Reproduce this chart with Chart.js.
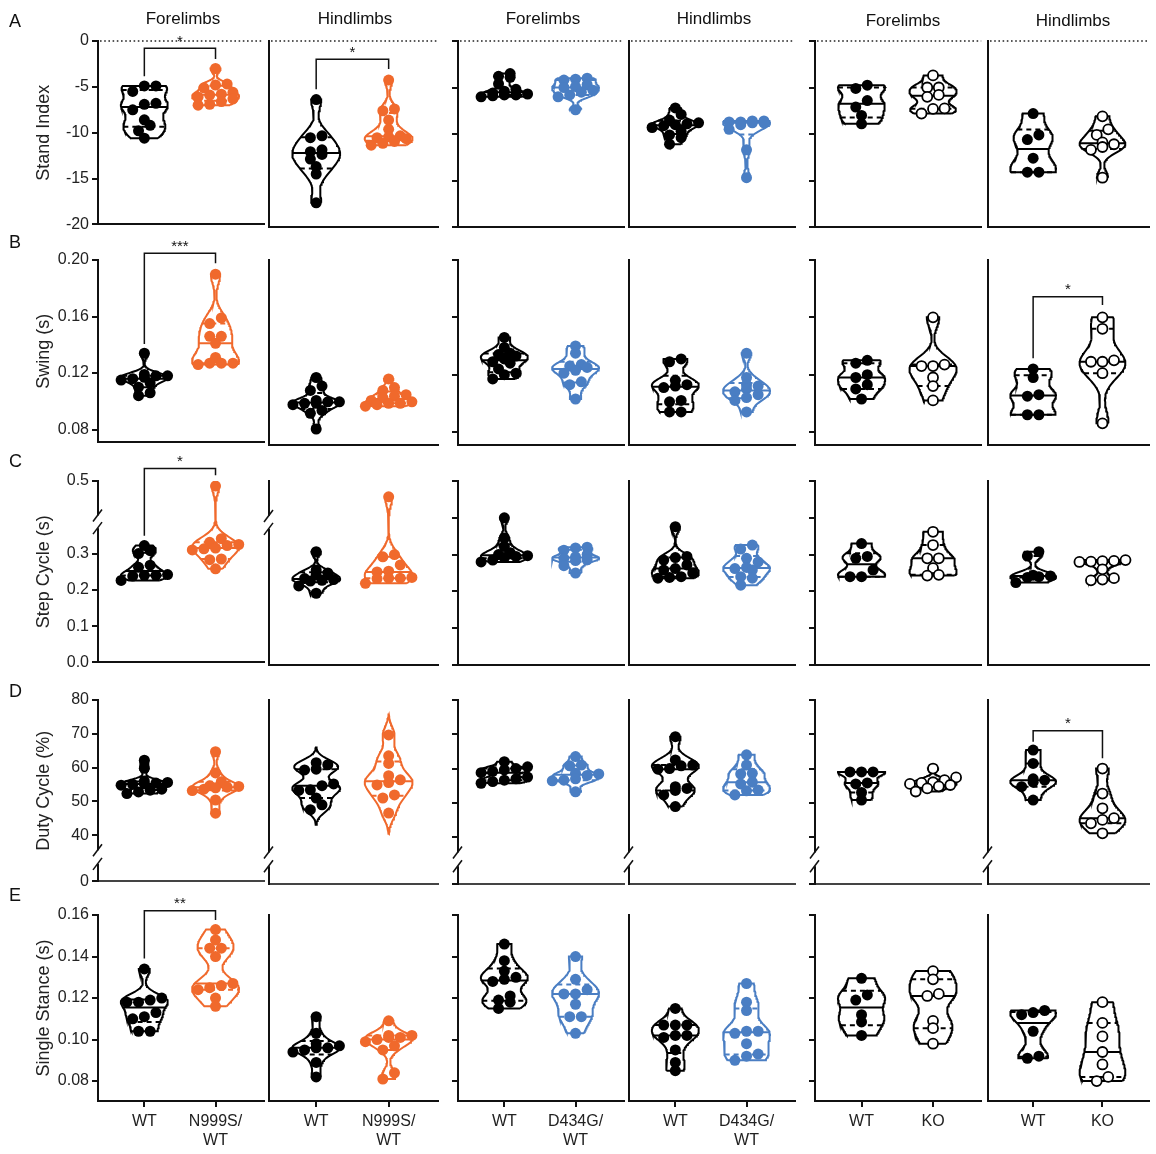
<!DOCTYPE html>
<html>
<head>
<meta charset="utf-8">
<script src="https://cdn.jsdelivr.net/npm/chart.js@4.4.1/dist/chart.umd.min.js"></script>
<style>
  body { margin: 0; background: #fff; width: 1156px; height: 1154px; position: relative; overflow: hidden; font-family: 'Liberation Sans', Arial, sans-serif; }
  canvas { position: absolute; }
  .limb { position: absolute; font-size: 17px; color: #111; transform: translateX(-50%); white-space: nowrap; }
  .letter { position: absolute; font-size: 18px; color: #111; }
</style>
</head>
<body>
<script>
// ---- data ----
const rowNames = ["Stand Index", "Swing (s)", "Step Cycle (s)", "Duty Cycle (%)", "Single Stance (s)"];
const rowLetters = ["A", "B", "C", "D", "E"];
const limbTitles = ["Forelimbs", "Hindlimbs", "Forelimbs", "Hindlimbs", "Forelimbs", "Hindlimbs"];
const wtLabel = "WT";
const mutLabels = [["N999S/", "WT"], ["N999S/", "WT"], ["D434G/", "WT"], ["D434G/", "WT"], "KO", "KO"];

const standTicks = [-20, -15, -10, -5, 0];
const swingTicks = [0.08, 0.12, 0.16, 0.20];
const stepTicks = [0, 0.1, 0.2, 0.3, 0.4, 0.5];
const dutyTicks = [0, 40, 50, 60, 70, 80];
const stanceTicks = [0.08, 0.10, 0.12, 0.14, 0.16];

const standWT = [
  [-4.9, -4.9, -5.5, -6.8, -6.9, -7.5, -8.6, -9.2, -9.8, -10.6],
  [-6.3, -10.2, -10.4, -11.7, -11.9, -12.2, -12.7, -13.5, -14.3, -17.4],
  [-3.5, -3.8, -3.9, -4.6, -5.2, -5.4, -5.6, -5.7, -5.8, -5.8, -5.9, -6.0],
  [-7.2, -7.9, -8.5, -8.8, -8.9, -9.0, -9.1, -9.3, -9.7, -10.1, -10.4, -11.1],
  [-4.75, -5.1, -6.4, -7.1, -8.0, -8.9],
  [-7.8, -10.1, -10.6, -12.6, -14.1, -14.1]
];
const standMut = [
  [-3.0, -4.7, -4.8, -5.1, -5.6, -5.8, -5.9, -6.1, -6.3, -6.6, -6.9, -7.0],
  [-4.2, -7.3, -7.5, -8.5, -9.5, -10.2, -10.3, -10.4, -10.5, -10.8, -11.0, -11.2],
  [-4.0, -4.1, -4.2, -4.7, -4.9, -5.0, -5.3, -5.5, -5.8, -6.0, -7.4],
  [-8.6, -8.6, -8.7, -8.7, -8.8, -8.8, -9.0, -9.5, -11.7, -14.7],
  [-3.7, -5.0, -5.0, -5.8, -6.0, -7.25, -7.3, -7.8],
  [-8.1, -9.5, -10.1, -10.9, -11.1, -11.4, -11.7, -14.7]
];
const swingWT = [
  [0.134, 0.119, 0.118, 0.118, 0.117, 0.116, 0.115, 0.113, 0.110, 0.106, 0.104],
  [0.118, 0.112, 0.109, 0.102, 0.101, 0.101, 0.100, 0.100, 0.099, 0.095, 0.093, 0.082],
  [0.146, 0.139, 0.135, 0.134, 0.133, 0.131, 0.129, 0.128, 0.124, 0.121, 0.120, 0.117],
  [0.131, 0.129, 0.116, 0.113, 0.112, 0.111, 0.102, 0.101, 0.094, 0.094],
  [0.130, 0.128, 0.120, 0.118, 0.113, 0.110, 0.103],
  [0.124, 0.118, 0.106, 0.105, 0.092, 0.092]
];
const swingMut = [
  [0.190, 0.159, 0.155, 0.146, 0.146, 0.141, 0.131, 0.127, 0.127, 0.127, 0.126],
  [0.117, 0.111, 0.109, 0.106, 0.105, 0.104, 0.102, 0.101, 0.100, 0.100, 0.099, 0.098],
  [0.140, 0.135, 0.127, 0.126, 0.125, 0.123, 0.121, 0.115, 0.113, 0.103],
  [0.135, 0.118, 0.113, 0.112, 0.110, 0.108, 0.106, 0.104, 0.102, 0.094],
  [0.160, 0.127, 0.126, 0.126, 0.118, 0.112, 0.102],
  [0.160, 0.152, 0.130, 0.129, 0.129, 0.121, 0.086]
];
const stepWT = [
  [0.322, 0.308, 0.300, 0.268, 0.262, 0.242, 0.240, 0.240, 0.238, 0.226],
  [0.308, 0.258, 0.250, 0.245, 0.235, 0.232, 0.230, 0.228, 0.215, 0.195],
  [0.400, 0.345, 0.322, 0.305, 0.300, 0.297, 0.295, 0.292, 0.285, 0.280],
  [0.376, 0.295, 0.292, 0.285, 0.272, 0.262, 0.258, 0.250, 0.240, 0.238, 0.236],
  [0.330, 0.295, 0.290, 0.258, 0.240, 0.240],
  [0.308, 0.296, 0.244, 0.242, 0.240, 0.238, 0.224]
];
const stepMut = [
  [0.486, 0.341, 0.331, 0.325, 0.322, 0.315, 0.313, 0.310, 0.285, 0.283, 0.258],
  [0.457, 0.300, 0.294, 0.272, 0.255, 0.253, 0.238, 0.236, 0.236, 0.235, 0.222],
  [0.320, 0.318, 0.312, 0.300, 0.294, 0.290, 0.286, 0.284, 0.270, 0.250],
  [0.326, 0.315, 0.290, 0.280, 0.265, 0.262, 0.258, 0.240, 0.236, 0.217],
  [0.362, 0.326, 0.290, 0.290, 0.263, 0.245, 0.243],
  [0.285, 0.283, 0.282, 0.281, 0.280, 0.260, 0.236, 0.232, 0.230]
];
const dutyWT = [
  [62.2, 59.8, 56.0, 55.6, 55.4, 55.2, 55.0, 54.8, 53.6, 53.3, 52.8, 52.3],
  [61.7, 61.1, 59.8, 59.6, 55.5, 55.0, 53.8, 53.6, 51.4, 49.4, 48.0],
  [62.0, 60.5, 60.0, 59.6, 59.2, 58.8, 57.5, 57.0, 56.6, 56.2, 55.7],
  [69.3, 62.5, 61.0, 60.8, 60.0, 59.8, 54.7, 54.2, 53.6, 52.3, 48.9],
  [59.0, 59.0, 59.0, 55.8, 55.5, 53.0, 50.8],
  [65.4, 61.5, 57.0, 56.6, 56.0, 54.7, 50.8]
];
const dutyMut = [
  [64.7, 58.4, 55.8, 54.6, 54.4, 54.2, 54.0, 53.6, 53.2, 50.4, 46.5],
  [69.8, 63.7, 61.5, 57.9, 56.7, 55.9, 55.2, 52.3, 51.4, 47.0],
  [63.5, 61.0, 60.8, 58.6, 58.4, 58.0, 57.0, 56.6, 56.4, 53.2],
  [64.0, 61.0, 58.6, 58.4, 56.0, 55.5, 53.7, 53.5, 52.3],
  [60.0, 57.4, 56.6, 56.0, 55.8, 55.5, 55.2, 54.8, 54.2, 53.3],
  [60.0, 52.7, 48.4, 45.5, 45.0, 44.0, 41.1]
];
const stanceWT = [
  [0.134, 0.120, 0.119, 0.118, 0.118, 0.113, 0.111, 0.110, 0.104, 0.104],
  [0.111, 0.103, 0.098, 0.097, 0.096, 0.096, 0.095, 0.094, 0.089, 0.082],
  [0.146, 0.138, 0.133, 0.130, 0.129, 0.128, 0.121, 0.119, 0.118, 0.115],
  [0.115, 0.107, 0.107, 0.107, 0.102, 0.102, 0.101, 0.095, 0.089, 0.085],
  [0.1295, 0.1215, 0.119, 0.112, 0.1085, 0.102],
  [0.114, 0.113, 0.112, 0.104, 0.092, 0.091]
];
const stanceMut = [
  [0.153, 0.148, 0.144, 0.144, 0.140, 0.127, 0.126, 0.125, 0.124, 0.120, 0.116],
  [0.109, 0.102, 0.102, 0.101, 0.101, 0.100, 0.099, 0.097, 0.095, 0.084, 0.081],
  [0.140, 0.129, 0.124, 0.122, 0.122, 0.117, 0.111, 0.111, 0.103],
  [0.127, 0.118, 0.114, 0.104, 0.104, 0.103, 0.098, 0.093, 0.092, 0.090],
  [0.133, 0.129, 0.122, 0.121, 0.109, 0.1055, 0.098],
  [0.118, 0.108, 0.1015, 0.094, 0.088, 0.082, 0.080]
];

// significance brackets: [row, col, bar level, left foot, right foot, stars]
const brackets = [
  [0, 0, -0.8, -3.85, -1.96, "*"],
  [0, 1, -1.96, -5.2, -3.0, "*"],
  [1, 0, 0.2047, 0.1406, 0.1977, "***"],
  [1, 5, 0.1744, 0.1314, 0.1686, "*"],
  [2, 0, 0.5345, 0.349, 0.516, "*"],
  [3, 5, 71.0, 67.8, 63.0, "*"],
  [4, 0, 0.1621, 0.1391, 0.1576, "**"]
];
// violins drawn with untrimmed tails
const untrimmed = ["3-1"];

// ---- layout ----
const FONT = "'Liberation Sans', Arial, sans-serif";
const BLACK = "#000", ORANGE = "#f0692c", BLUE = "#4a7ec3";
const XMIN = -0.651, XMAX = 1.674, VW = 0.33;
const rowBox = [
  { top: 41, bottom: 227, min: -20, max: 0 },
  { top: 260, bottom: 445, min: 0.0709, max: 0.2 },
  { top: 481, bottom: 665, min: 0, max: 0.5 },
  { top: 700, bottom: 884, min: 26.3, max: 80 },
  { top: 915, bottom: 1101, min: 0.0704, max: 0.16 }
];
const colBox = [[98, 269], [269, 443], [458, 629], [629, 800], [815, 988], [988, 1156]];
const limbX = [183, 355, 543, 714, 903, 1073];
const letterY = [11, 232, 451, 681, 885];

const dataWT = [standWT, swingWT, stepWT, dutyWT, stanceWT];
const dataMut = [standMut, swingMut, stepMut, dutyMut, stanceMut];
const tickSets = [standTicks, swingTicks, stepTicks, dutyTicks, stanceTicks];

Chart.defaults.font.family = FONT;

function violin(vals, ext) {
  const n = vals.length;
  const mean = vals.reduce((a, b) => a + b, 0) / n;
  const sd = Math.sqrt(vals.reduce((a, v) => a + (v - mean) ** 2, 0) / (n - 1));
  const bw = 0.55 * 1.06 * sd * Math.pow(n, -0.2);
  const lo = Math.min(...vals) - (ext ? 2.6 * bw : 0);
  const hi = Math.max(...vals) + (ext ? 2.6 * bw : 0);
  const dens = y => vals.reduce((s, v) => s + Math.exp(-0.5 * ((y - v) / bw) ** 2), 0);
  const ys = [];
  for (let i = 0; i <= 80; i++) ys.push(lo + (hi - lo) * i / 80);
  const dmax = Math.max(...ys.map(dens));
  return { ys, dens, dmax };
}

function quant(sorted, p) {
  const n = sorted.length;
  let pos = (n + 1) * p - 1;
  pos = Math.max(0, Math.min(n - 1, pos));
  const lo = Math.floor(pos), hi = Math.ceil(pos);
  return sorted[lo] + (sorted[hi] - sorted[lo]) * (pos - lo);
}

// spread points that sit at almost the same height side by side (max 5 in a row)
function swarm(vals, yPx) {
  const idx = vals.map((v, i) => i).sort((a, b) => vals[a] - vals[b]);
  const xs = new Array(vals.length).fill(0);
  let band = [];
  const flush = () => {
    band.forEach((j, k) => { xs[j] = (k - (band.length - 1) / 2) * 12; });
    band = [];
  };
  idx.forEach(j => {
    if (band.length && ((vals[j] - vals[band[0]]) * yPx > 7 || band.length >= 5)) flush();
    band.push(j);
  });
  flush();
  return xs;
}

function slash(ctx, x, y) {
  ctx.beginPath();
  ctx.moveTo(x - 5, y + 6);
  ctx.lineTo(x + 4, y - 6);
  ctx.stroke();
}

function makePanel(r, c) {
  const rb = rowBox[r], cb = colBox[c];
  const padL = c === 0 ? 98 : 12;
  const padT = 34, padB = r === 4 ? 58 : 10;
  const plotW = cb[1] - cb[0], plotH = rb.bottom - rb.top;
  const W = plotW + padL, H = plotH + padT + padB;
  const cv = document.createElement("canvas");
  cv.width = W; cv.height = H;
  cv.style.left = (cb[0] - padL) + "px";
  cv.style.top = (rb.top - padT) + "px";
  cv.style.width = W + "px"; cv.style.height = H + "px";
  document.body.appendChild(cv);

  const xPx = plotW / (XMAX - XMIN), yPx = plotH / (rb.max - rb.min);
  const mutColor = c < 2 ? ORANGE : c < 4 ? BLUE : BLACK;
  const groups = [
    { vals: dataWT[r][c], color: BLACK, open: false },
    { vals: dataMut[r][c], color: mutColor, open: c >= 4 }
  ];
  const datasets = [];
  groups.forEach((g, gi) => {
    const v = violin(g.vals, untrimmed.includes(r + "-" + c));
    const hw = y => VW * v.dens(y) / v.dmax;
    const right = v.ys.map(y => ({ x: gi + hw(y), y: y }));
    const left = v.ys.slice().reverse().map(y => ({ x: gi - hw(y), y: y }));
    const poly = right.concat(left);
    poly.push(right[0]);
    datasets.push({ data: poly, showLine: true, borderColor: g.color, borderWidth: 2, pointRadius: 0, order: 3 });
    const s = g.vals.slice().sort((a, b) => a - b);
    [[0.5, []], [0.25, [5, 4]], [0.75, [5, 4]]].forEach(([p, dash]) => {
      const q = quant(s, p);
      datasets.push({
        data: [{ x: gi - hw(q), y: q }, { x: gi + hw(q), y: q }],
        showLine: true, borderColor: g.color, borderWidth: 2, borderDash: dash, pointRadius: 0, order: 2
      });
    });
    const offs = swarm(g.vals, yPx);
    datasets.push({
      data: g.vals.map((y, i) => ({ x: gi + offs[i] / xPx, y: y })),
      pointRadius: g.open ? 5 : 5.5,
      backgroundColor: g.open ? "#fff" : g.color,
      borderColor: g.color,
      borderWidth: g.open ? 1.8 : 0,
      order: 1
    });
  });
  const br = brackets.filter(b => b[0] === r && b[1] === c);
  br.forEach(b => {
    datasets.push({
      data: [{ x: 0, y: b[3] }, { x: 0, y: b[2] }, { x: 1, y: b[2] }, { x: 1, y: b[4] }],
      showLine: true, borderColor: "#111", borderWidth: 1.5, pointRadius: 0, clip: false, order: 0
    });
  });

  let yTicks = tickSets[r].slice();
  if (r === 2 && c < 2) yTicks = yTicks.filter(t => t !== 0.4);
  if (r === 3) yTicks = yTicks.map(t => t === 0 ? rb.min : t);
  const fmt = [
    v => String(v),
    v => v.toFixed(2),
    v => v.toFixed(1),
    v => v === rb.min ? "0" : String(v),
    v => v.toFixed(2)
  ][r];

  const extras = {
    id: "extras",
    afterDraw(chart) {
      const { ctx, chartArea: a, scales: { x, y } } = chart;
      ctx.save();
      if (r === 0) {
        ctx.strokeStyle = "#222"; ctx.lineWidth = 1.6; ctx.setLineDash([1.6, 2.6]);
        ctx.beginPath(); ctx.moveTo(a.left + 2, y.getPixelForValue(0)); ctx.lineTo(a.right, y.getPixelForValue(0)); ctx.stroke();
        ctx.setLineDash([]);
      }
      let gap = null;
      if (r === 2 && c < 2) gap = [0.405, 0.37];
      if (r === 3) gap = [35.5, 31.5];
      if (gap) {
        const y1 = y.getPixelForValue(gap[0]), y2 = y.getPixelForValue(gap[1]);
        ctx.fillStyle = "#fff";
        ctx.fillRect(a.left - 4, y1, 8, y2 - y1);
        ctx.strokeStyle = "#111"; ctx.lineWidth = 1.5;
        slash(ctx, a.left, y1);
        slash(ctx, a.left, y2);
      }
      ctx.fillStyle = "#111";
      ctx.font = "15px " + FONT;
      ctx.textAlign = "center"; ctx.textBaseline = "bottom";
      br.forEach(b => {
        ctx.fillText(b[5], (x.getPixelForValue(0) + x.getPixelForValue(1)) / 2, y.getPixelForValue(b[2]) + 1);
      });
      ctx.restore();
    }
  };

  new Chart(cv, {
    type: "scatter",
    data: { datasets: datasets },
    options: {
      responsive: false,
      animation: false,
      devicePixelRatio: 1,
      layout: { padding: { top: padT, left: 0, right: 0, bottom: 0 } },
      plugins: { legend: { display: false }, tooltip: { enabled: false } },
      scales: {
        x: {
          type: "linear", min: XMIN, max: XMAX,
          afterFit: s => { s.height = padB; },
          afterBuildTicks: s => { s.ticks = [{ value: 0 }, { value: 1 }]; },
          grid: { display: r === 4, drawOnChartArea: false, drawTicks: true, tickLength: 6, color: "#111", lineWidth: 2 },
          border: { display: true, color: r === 3 ? "#444" : "#111", width: 2, dash: r === 3 ? [2, 1.5] : [] },
          ticks: {
            display: r === 4, padding: 5, autoSkip: false, maxRotation: 0,
            font: { size: 16, family: FONT }, color: "#222",
            callback: v => v === 0 ? wtLabel : mutLabels[c]
          }
        },
        y: {
          type: "linear", min: rb.min, max: rb.max,
          afterFit: s => { s.width = padL; },
          afterBuildTicks: s => { s.ticks = yTicks.map(t => ({ value: t })); },
          grid: { display: c % 2 === 0, drawOnChartArea: false, drawTicks: true, tickLength: 6, color: "#111", lineWidth: 2 },
          border: { display: true, color: "#111", width: 2 },
          ticks: { display: c === 0, padding: 3, autoSkip: false, font: { size: 16, family: FONT }, color: "#222", callback: fmt },
          title: { display: c === 0, text: rowNames[r], font: { size: 18, family: FONT }, color: "#222", padding: { top: 33, bottom: 0 } }
        }
      }
    },
    plugins: [extras]
  });
}

for (let r = 0; r < 5; r++) {
  for (let c = 0; c < 6; c++) makePanel(r, c);
}

limbTitles.forEach((t, i) => {
  const d = document.createElement("div");
  d.className = "limb";
  d.textContent = t;
  d.style.left = limbX[i] + "px";
  d.style.top = (i >= 4 ? 11 : 9) + "px";
  document.body.appendChild(d);
});
rowLetters.forEach((t, i) => {
  const d = document.createElement("div");
  d.className = "letter";
  d.textContent = t;
  d.style.left = "9px";
  d.style.top = letterY[i] + "px";
  document.body.appendChild(d);
});
</script>
</body>
</html>
